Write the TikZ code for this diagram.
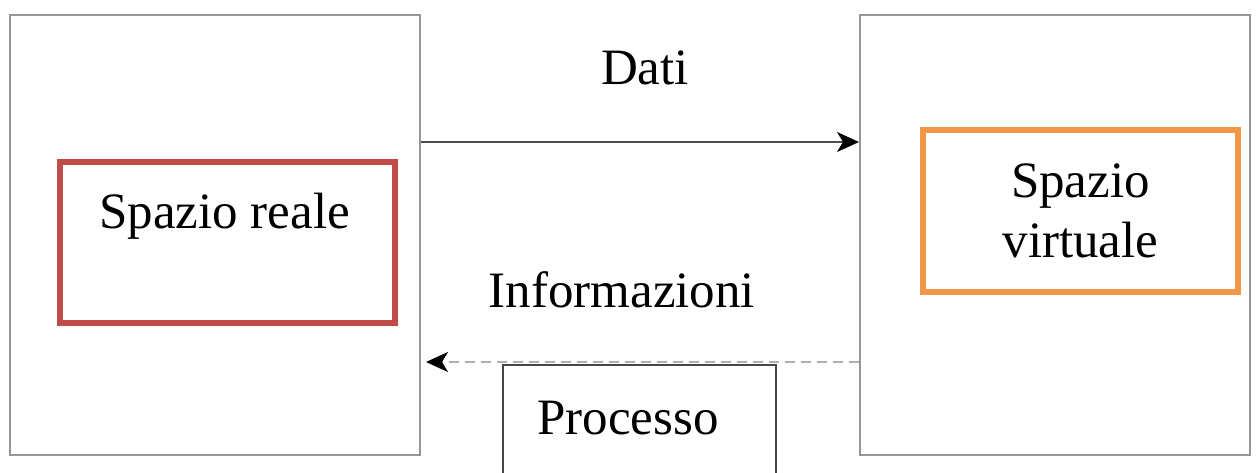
\documentclass[tikz,border=0pt]{standalone}
\usepackage{fontspec}
\setmainfont{Liberation Serif}
\usetikzlibrary{arrows.meta,calc}
\definecolor{boxgray}{RGB}{150,150,150}
\definecolor{redb}{RGB}{192,75,72}
\definecolor{orangeb}{RGB}{240,152,72}
\definecolor{dashg}{RGB}{175,175,175}
\definecolor{procg}{RGB}{70,70,70}
\begin{document}
\begin{tikzpicture}[x=0.5pt,y=-0.5pt,
  bigbox/.style={draw=boxgray,line width=1pt,inner sep=0pt},
  inbox/.style={line width=2.6pt,inner sep=0pt,align=center},
  lbl/.style={font=\fontsize{25.5}{30}\selectfont,inner sep=0pt},
  tip/.style={-{Stealth[length=11pt,width=10pt,inset=3pt,color=black]}}]
\useasboundingbox (0,0) rectangle (1260,472);
\clip (0,0) rectangle (1260,472);
\node[bigbox,minimum width=205pt,minimum height=220pt] (left) at (215,235) {};
\node[bigbox,minimum width=195pt,minimum height=220pt] (right) at (1055,235) {};
\node[inbox,draw=redb,minimum width=167.5pt,minimum height=80.5pt] (real) at (227.5,242.5) {};
\node[lbl] at ($(real.center)+(-3,-26)$) {Spazio reale};
\node[inbox,draw=orangeb,minimum width=157.5pt,minimum height=81pt,font=\fontsize{25.5}{30}\selectfont] (virt) at (1080.5,211) {Spazio\\virtuale};
\node[draw=procg,line width=1.4pt,minimum width=136.5pt,minimum height=70pt,inner sep=0pt] (proc) at (639.5,435) {};
\node[lbl] at (628,418) {Processo};
\coordinate (dy) at (0,142);
\coordinate (iy) at (0,362);
\draw[tip,line width=0.7pt,draw=black!70] (left.east |- dy) -- (right.west |- dy);
\draw[tip,line width=1pt,draw=dashg,dash pattern=on 5pt off 3pt] (right.west |- iy) -- ($(left.east |- iy)+(5,0)$);
\node[lbl] at (645,68) {Dati};
\node[lbl] at (622,290) {Informazioni};
\end{tikzpicture}
\end{document}
